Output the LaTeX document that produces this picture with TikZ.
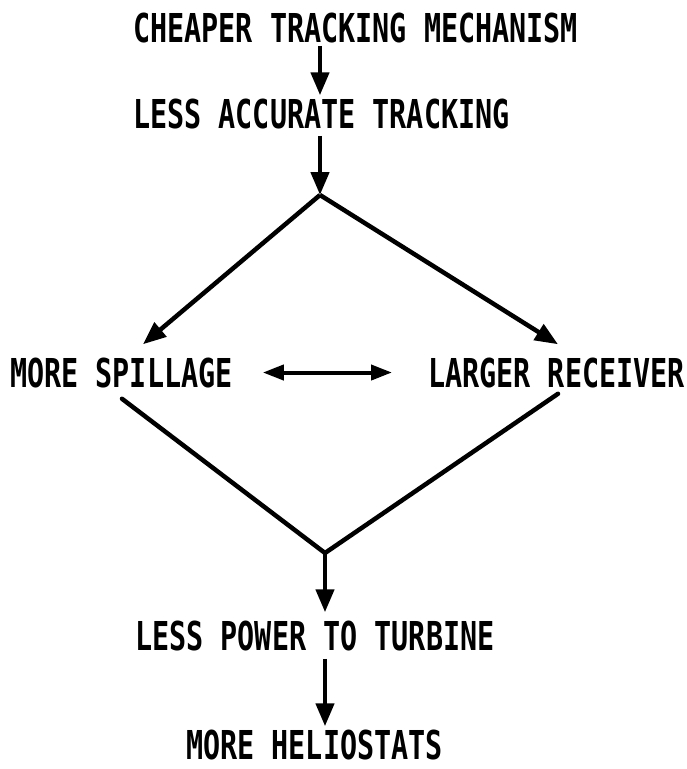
\documentclass[tikz,border=0pt]{standalone}
\usepackage{fontspec}
\newfontfamily\plotfont{DejaVu Sans Mono}[FakeStretch=0.714]
\usetikzlibrary{arrows.meta}
\tikzset{
  label/.style={inner sep=0pt, anchor=base west, font=\plotfont\bfseries\fontsize{39.8}{40}\selectfont},
  flow/.style={line width=4.5pt, -{Triangle[length=23pt,width=18pt]}},
  edge/.style={line width=4.5pt, line cap=round},
  both/.style={line width=4pt, {Triangle[length=21pt,width=15pt]}-{Triangle[length=21pt,width=15pt]}}
}
\begin{document}
\begin{tikzpicture}[x=1pt,y=-1pt]
\useasboundingbox (0,0) rectangle (686,769);
\fill[white] (0,0) rectangle (686,769);

% statements
\node[label] (n1) at (133,42)  {CHEAPER TRACKING MECHANISM};
\node[label] (n2) at (133,128) {LESS ACCURATE TRACKING};
\node[label] (n3) at (10,387)  {MORE SPILLAGE};
\node[label] (n4) at (428,387) {LARGER RECEIVER};
\node[label] (n5) at (135,650) {LESS POWER TO TURBINE};
\node[label] (n6) at (186,759) {MORE HELIOSTATS};

% branch and merge points
\coordinate (top) at (320,195);
\coordinate (bot) at (325,553);

% chain of consequences
\draw[flow, shorten <=3pt, shorten >=3pt] (n1.south -| top) -- (n2.north -| top);
\draw[flow, shorten <=7pt] (n2.south -| top) -- (top);
\draw[flow] (top) -- ([xshift=133pt,yshift=13pt]n3.north west);
\draw[flow] (top) -- ([xshift=130pt,yshift=13pt]n4.north west);
\draw[both, shorten <=30pt, shorten >=36pt] (n3.east) -- (n4.west);
\draw[edge] ([xshift=112pt,yshift=-11pt]n3.south west) -- (bot);
\draw[edge] ([xshift=130pt,yshift=-6pt]n4.south west) -- (bot);
\draw[flow, shorten >=8pt] (bot) -- (n5.north -| bot);
\draw[flow, shorten <=8pt, shorten >=3pt] (n5.south -| bot) -- (n6.north -| bot);
\end{tikzpicture}
\end{document}
